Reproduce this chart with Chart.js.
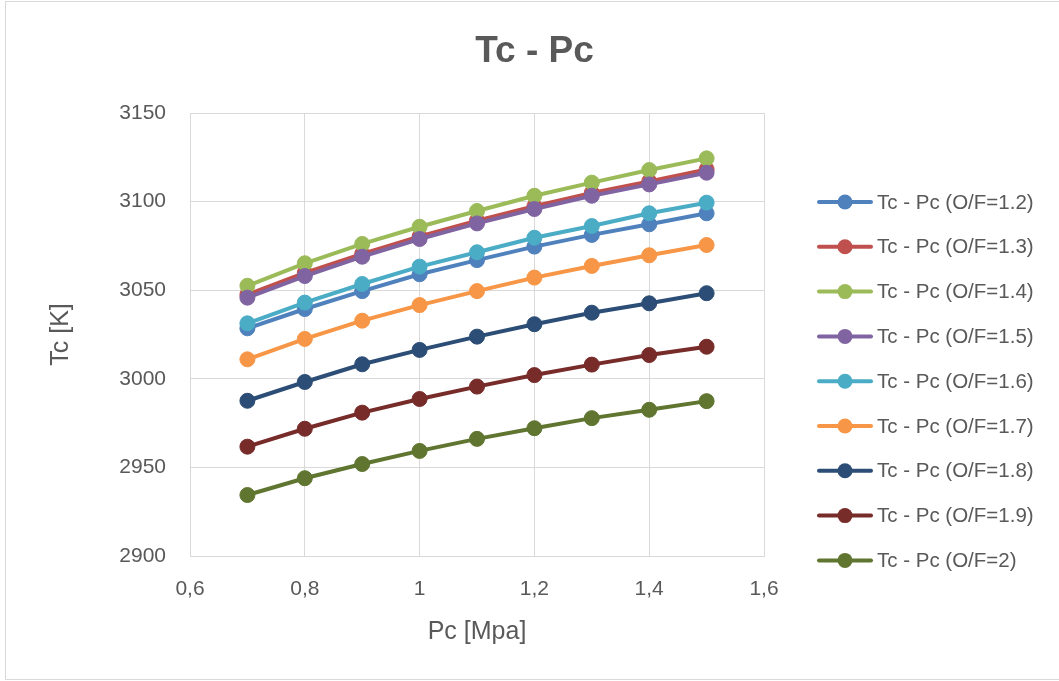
<!DOCTYPE html>
<html>
<head>
<meta charset="utf-8">
<title>Tc - Pc</title>
<script src="https://cdn.jsdelivr.net/npm/chart.js@4/dist/chart.umd.min.js"></script>
<style>
  html, body { margin: 0; padding: 0; background: #ffffff; }
  #wrap { width: 1059px; height: 681px; }
</style>
</head>
<body>
<div id="wrap"><canvas id="chart" width="1059" height="681"></canvas></div>
<script>
// Chamber pressure [MPa]
const pcValues = [0.7, 0.8, 0.9, 1.0, 1.1, 1.2, 1.3, 1.4, 1.5];

// Chamber temperature [K] for each mixture ratio O/F
const tcOF12 = [3028.5, 3039.4, 3049.5, 3059.0, 3067.0, 3074.6, 3081.2, 3087.2, 3093.4];
const tcOF13 = [3047.5, 3059.8, 3070.5, 3080.3, 3089.3, 3097.4, 3104.9, 3111.4, 3118.2];
const tcOF14 = [3052.5, 3065.2, 3076.1, 3085.8, 3094.7, 3103.3, 3110.7, 3117.8, 3124.4];
const tcOF15 = [3045.8, 3058.0, 3068.9, 3078.9, 3087.7, 3095.8, 3103.3, 3109.7, 3116.3];
const tcOF16 = [3031.3, 3043.0, 3053.5, 3063.3, 3071.4, 3079.6, 3086.2, 3093.4, 3099.4];
const tcOF17 = [3011.0, 3022.5, 3032.8, 3041.6, 3049.5, 3057.1, 3063.7, 3069.7, 3075.5];
const tcOF18 = [2987.6, 2998.2, 3008.2, 3016.3, 3023.8, 3030.8, 3037.3, 3042.6, 3048.3];
const tcOF19 = [2961.7, 2971.8, 2980.9, 2988.6, 2995.6, 3002.1, 3008.0, 3013.4, 3018.1];
const tcOF20 = [2934.4, 2943.9, 2951.9, 2959.3, 2966.1, 2972.1, 2977.8, 2982.5, 2987.4];

const seriesLabels = [
  'Tc - Pc (O/F=1.2)', 'Tc - Pc (O/F=1.3)', 'Tc - Pc (O/F=1.4)',
  'Tc - Pc (O/F=1.5)', 'Tc - Pc (O/F=1.6)', 'Tc - Pc (O/F=1.7)',
  'Tc - Pc (O/F=1.8)', 'Tc - Pc (O/F=1.9)', 'Tc - Pc (O/F=2)'
];
const seriesValues = [tcOF12, tcOF13, tcOF14, tcOF15, tcOF16, tcOF17, tcOF18, tcOF19, tcOF20];
const seriesColors = ['#4F81BD', '#C0504D', '#9BBB59', '#8064A2', '#4BACC6',
                      '#F79646', '#2C4D75', '#772C2A', '#5F7530'];

// Axis tick labels (decimal comma)
const pcTickLabels = ['0,6', '0,8', '1', '1,2', '1,4', '1,6'];
const tcTickLabels = ['2900', '2950', '3000', '3050', '3100', '3150'];

const FONT = '"Liberation Sans", Arial, sans-serif';
const TEXT = '#595959';
const GRID = '#D9D9D9';

const datasets = seriesLabels.map((label, i) => ({
  label,
  data: pcValues.map((p, k) => ({ x: p, y: seriesValues[i][k] })),
  borderColor: seriesColors[i],
  backgroundColor: seriesColors[i],
  pointBackgroundColor: seriesColors[i],
  pointBorderColor: seriesColors[i],
  borderWidth: 4,
  pointRadius: 7.5,
  pointBorderWidth: 1,
  pointHoverRadius: 7.5,
  tension: 0,
  order: seriesLabels.length - i   // later series drawn on top
}));

// Legend drawn in a layout box on the right side
function makeLegendBox(chart) {
  return {
    position: 'right',
    weight: 100,
    fullSize: false,
    options: {},
    left: 0, top: 0, right: 0, bottom: 0, width: 0, height: 0,
    isHorizontal() { return false; },
    update(maxWidth, maxHeight) { this.width = 295; this.height = maxHeight; },
    getPadding() { return { left: 0, right: 0, top: 0, bottom: 0 }; },
    draw() {
      const ctx = chart.ctx;
      const x0 = this.left;
      ctx.save();
      chart.data.datasets.forEach((ds, i) => {
        const y = 202 + i * 44.8;
        ctx.strokeStyle = ds.borderColor;
        ctx.lineWidth = 4;
        ctx.lineCap = 'round';
        ctx.beginPath();
        ctx.moveTo(x0 + 55, y);
        ctx.lineTo(x0 + 107, y);
        ctx.stroke();
        ctx.fillStyle = ds.borderColor;
        ctx.beginPath();
        ctx.arc(x0 + 81, y, 7.5, 0, Math.PI * 2);
        ctx.fill();
        ctx.fillStyle = TEXT;
        ctx.font = '20.5px ' + FONT;
        ctx.textAlign = 'left';
        ctx.textBaseline = 'middle';
        ctx.fillText(ds.label, x0 + 113, y + 1);
      });
      ctx.restore();
    }
  };
}

const legendPlugin = {
  id: 'sideLegend',
  beforeInit(chart) {
    Chart.layouts.addBox(chart, makeLegendBox(chart));
  }
};

const framePlugin = {
  id: 'frame',
  beforeDraw(chart) {
    const ctx = chart.ctx;
    ctx.save();
    ctx.fillStyle = '#ffffff';
    ctx.fillRect(0, 0, chart.width, chart.height);
    ctx.strokeStyle = GRID;
    ctx.lineWidth = 1;
    ctx.strokeRect(5.5, 1.5, 1060, 678);
    ctx.restore();
  }
};

new Chart(document.getElementById('chart'), {
  type: 'line',
  data: { datasets },
  plugins: [framePlugin, legendPlugin],
  options: {
    responsive: false,
    animation: false,
    devicePixelRatio: 1,
    layout: { padding: { left: 10, right: 0, top: 0, bottom: 0 } },
    plugins: {
      legend: { display: false },
      tooltip: { enabled: false },
      title: {
        display: true,
        text: 'Tc - Pc',
        color: TEXT,
        font: { family: FONT, size: 37, weight: 'bold', lineHeight: 1.2 },
        padding: { top: 30, bottom: 38.6 }
      }
    },
    scales: {
      x: {
        type: 'linear',
        min: 0.6, max: 1.6,
        afterFit(scale) { scale.height = 125; },
        ticks: {
          stepSize: 0.2,
          color: TEXT,
          padding: 21,
          maxRotation: 0,
          font: { family: FONT, size: 21 },
          callback: (v, i) => pcTickLabels[i]
        },
        grid: { color: GRID, lineWidth: 1, drawTicks: false },
        border: { color: GRID, width: 1 },
        title: {
          display: true,
          text: 'Pc [Mpa]',
          color: TEXT,
          font: { family: FONT, size: 25, lineHeight: 1.2 },
          padding: { top: 0, bottom: 34 }
        }
      },
      y: {
        type: 'linear',
        min: 2900, max: 3150,
        afterFit(scale) { scale.width = 180; },
        ticks: {
          stepSize: 50,
          color: TEXT,
          padding: 24,
          font: { family: FONT, size: 21 },
          callback: (v, i) => tcTickLabels[i]
        },
        grid: { color: GRID, lineWidth: 1, drawTicks: false },
        border: { color: GRID, width: 1 },
        title: {
          display: true,
          text: 'Tc [K]',
          color: TEXT,
          font: { family: FONT, size: 25, lineHeight: 1.2 },
          padding: { top: 36, bottom: 0 }
        }
      }
    }
  }
});
</script>
</body>
</html>
